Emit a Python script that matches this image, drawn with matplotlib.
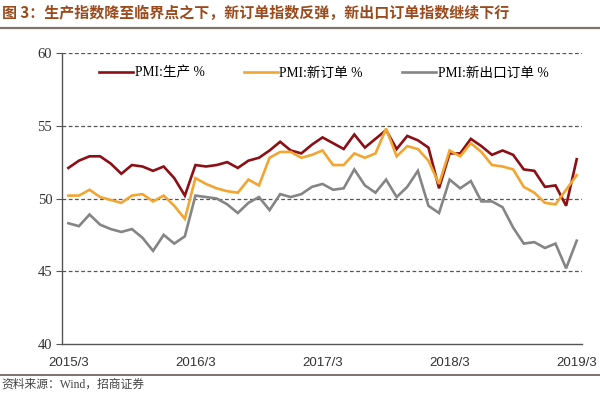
import numpy as np
import matplotlib
matplotlib.use('Agg')
import matplotlib.pyplot as plt
from matplotlib.lines import Line2D

plt.rcParams['font.family'] = ['Liberation Serif', 'Noto Sans CJK SC', 'DejaVu Sans']

# Monthly PMI sub-indices, 2015/3 - 2019/3
production = [52.1, 52.6, 52.9, 52.9, 52.4, 51.7, 52.3, 52.2, 51.9, 52.2,
              51.4, 50.2, 52.3, 52.2, 52.3, 52.5, 52.1, 52.6, 52.8, 53.3, 53.9, 53.3,
              53.1, 53.7, 54.2, 53.8, 53.4, 54.4, 53.5, 54.1, 54.7, 53.4, 54.3, 54.0,
              53.5, 50.7, 53.1, 53.1, 54.1, 53.6, 53.0, 53.3, 53.0, 52.0, 51.9, 50.8,
              50.9, 49.5, 52.7]
new_orders = [50.2, 50.2, 50.6, 50.1, 49.9, 49.7, 50.2, 50.3, 49.8, 50.2,
              49.5, 48.6, 51.4, 51.0, 50.7, 50.5, 50.4, 51.3, 50.9, 52.8, 53.2, 53.2,
              52.8, 53.0, 53.3, 52.3, 52.3, 53.1, 52.8, 53.1, 54.8, 52.9, 53.6, 53.4,
              52.6, 51.0, 53.3, 52.9, 53.8, 53.2, 52.3, 52.2, 52.0, 50.8, 50.4, 49.7,
              49.6, 50.6, 51.6]
export_orders = [48.3, 48.1, 48.9, 48.2, 47.9, 47.7, 47.9, 47.3, 46.4, 47.5,
                 46.9, 47.4, 50.2, 50.1, 50.0, 49.6, 49.0, 49.7, 50.1, 49.2, 50.3, 50.1,
                 50.3, 50.8, 51.0, 50.6, 50.7, 52.0, 50.9, 50.4, 51.3, 50.1, 50.8, 51.9,
                 49.5, 49.0, 51.3, 50.7, 51.2, 49.8, 49.8, 49.4, 48.0, 46.9, 47.0, 46.6,
                 46.9, 45.2, 47.1]
tick_labels = ['2015/3', '2016/3', '2017/3', '2018/3', '2019/3']
series_names = ['PMI:生产 %', 'PMI:新订单 %', 'PMI:新出口订单 %']
colors = ['#8B0F14', '#F2A530', '#858585']

W, H = 600, 394
fig = plt.figure(figsize=(W / 100, H / 100), dpi=100)
ax = fig.add_axes([62 / W, (H - 344) / H, (582 - 62) / W, (344 - 53) / H])

x = np.arange(len(production))
for ys, c in zip([production, new_orders, export_orders], colors):
    ax.plot(x, ys, color=c, lw=1.9, solid_joinstyle='miter')

ax.set_ylim(40, 60)
ax.set_xlim(-0.6, 48.5)
ax.set_yticks([40, 45, 50, 55, 60])
ax.set_xticks(np.arange(0, len(production), 12))
ax.set_xticklabels(tick_labels, family='Liberation Sans', fontsize=9.5, color='#333333')
for lab in ax.get_yticklabels():
    lab.set_fontsize(10.5)
    lab.set_color('#333333')

for v in [45, 50, 55, 60]:
    ax.axhline(v, color='#555555', lw=0.9, ls=(0, (3, 2)), zorder=0)

for s in ['top', 'right']:
    ax.spines[s].set_visible(False)
for s in ['left', 'bottom']:
    ax.spines[s].set_color('#555555')
    ax.spines[s].set_linewidth(1.0)
ax.tick_params(axis='y', length=4, color='#555555', pad=3)
ax.tick_params(axis='x', length=0, pad=9)

handles = [Line2D([], [], color=c, lw=1.9) for c in colors]
ax.legend(handles, series_names, loc='center left', bbox_to_anchor=(0.048, 0.93),
          ncol=3, frameon=False, fontsize=9.8, handlelength=2.5, handletextpad=0.1,
          columnspacing=2.9)

# title, rules and source note
fig.text(0.004, 1 - 13 / H, '图 3：生产指数降至临界点之下，新订单指数反弹，新出口订单指数继续下行',
         fontsize=10.8, fontweight='bold', color='#9A4A1C', va='center', ha='left',
         family=['Noto Sans CJK SC'])
fig.add_artist(Line2D([0, 1], [1 - 28 / H, 1 - 28 / H], color='#7F726B', lw=1.6))
fig.add_artist(Line2D([0, 1], [1 - 375 / H, 1 - 375 / H], color='#7F726B', lw=1.4))
fig.text(0.003, 1 - 385 / H, '资料来源：Wind，招商证券', fontsize=8.5, color='#444444',
         va='center', ha='left')

fig.savefig('out.png', dpi=100)
